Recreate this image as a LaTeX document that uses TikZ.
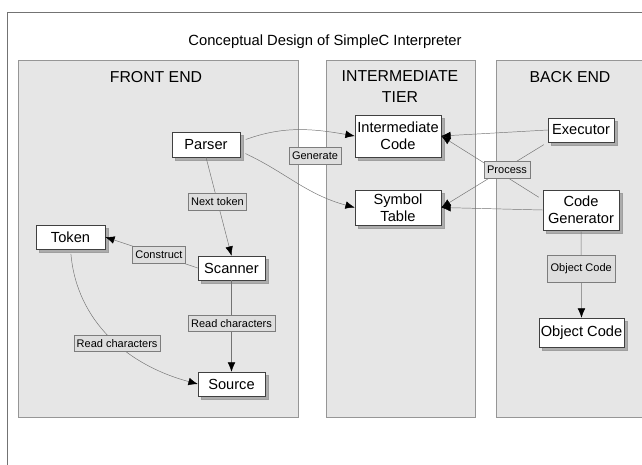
\documentclass[tikz,border=0pt]{standalone}
\usepackage{fontspec}
\setmainfont{Liberation Sans}
\usetikzlibrary{shapes,arrows.meta,shadows}
\definecolor{panelgray}{RGB}{230,230,230}
\definecolor{panelline}{RGB}{150,150,150}
\definecolor{labelgray}{RGB}{222,222,222}
\definecolor{labelline}{RGB}{125,125,125}
\definecolor{linegray}{RGB}{115,115,115}
\begin{document}
\begin{tikzpicture}[x=0.03cm,y=0.03cm,
	panel/.style={draw=panelline,fill=panelgray},
	header/.style={align=center,font=\fontsize{13.5}{18}\selectfont},
	block/.style={rectangle,draw=black!75,fill=white,inner sep=0pt,align=center,
		font=\fontsize{12.5}{14.5}\selectfont,
		copy shadow={shadow xshift=2.5pt,shadow yshift=-2.5pt,fill=gray!65,draw=gray!75}},
	tag/.style={rectangle,draw=labelline,fill=labelgray,inner xsep=2.5pt,inner ysep=0pt,
		minimum height=0.5cm,font=\fontsize{9.4}{11}\selectfont},
	line/.style={draw=linegray,-{Latex[length=8pt,width=6.5pt,black]}}]
\clip (0,0) rectangle (642,-464);
\fill[white] (0,0) rectangle (642,-464);
% frame and tiers
\draw[draw=linegray] (7,-12) rectangle (700,-520);
\node[font=\fontsize{12.6}{15}\selectfont] (title) at (325,-42) {Conceptual Design of SimpleC Interpreter};
\draw[panel] (18,-60) rectangle (298,-417);
\draw[panel] (326,-60) rectangle (475,-417);
\draw[panel] (496,-60) rectangle (700,-417);
\node[header] (front) at (156,-77) {FRONT END};
\node[header] (middle) at (400,-87) {INTERMEDIATE\\TIER};
\node[header] (back) at (570,-77) {BACK END};
% front end
\node[block,minimum width=2.04cm,minimum height=0.75cm] (parser) at (206,-144.5) {Parser};
\node[block,minimum width=2.07cm,minimum height=0.72cm] (token) at (70.5,-237) {Token};
\node[block,minimum width=2.01cm,minimum height=0.72cm] (scanner) at (231.5,-268) {Scanner};
\node[block,minimum width=2.01cm,minimum height=0.72cm] (source) at (231.5,-384) {Source};
% intermediate tier
\node[block,minimum width=2.58cm,minimum height=1.26cm] (icode) at (398,-136) {Intermediate\\Code};
\node[block,minimum width=2.58cm,minimum height=1.05cm] (symtab) at (398,-207.5) {Symbol\\Table};
% back end
\node[block,minimum width=1.98cm,minimum height=0.72cm] (executor) at (581,-130) {Executor};
\node[block,minimum width=2.28cm,minimum height=1.2cm] (codegen) at (581,-210) {Code\\Generator};
\node[block,minimum width=2.55cm,minimum height=0.87cm] (objcode) at (581.5,-332.5) {Object Code};
% connectors
\path[line,shorten <=5pt] (parser.5) to[out=20,in=170] (icode.west);
\path[line,shorten <=5pt] (parser.-11) to[out=-25,in=165] (symtab.west);
\path[line] (parser.south) -- node[tag,pos=0.45] {Next token} (scanner.north);
\path[line] (scanner.west) -- node[tag,pos=0.42] {Construct} (token.east);
\path[line] (scanner.south) -- node[tag,pos=0.47] {Read characters} (source.north);
\path[line,shorten <=4pt] (token.south) to[out=-85,in=165] node[tag,pos=0.55] {Read characters} (source.west);
\path[line] (executor.west) -- (icode.east);
\path[line] (codegen.west) -- (symtab.east);
\path[line,shorten <=4pt] (executor.south west) -- (symtab.east);
\path[line,shorten <=4pt] (codegen.165) -- (icode.east);
\path[line] (codegen.south) -- node[tag,pos=0.44,minimum height=0.8cm] {Object Code} (objcode.north);
\node[tag] (generate) at (315,-156) {Generate};
\node[tag] (process) at (507,-170) {Process};
\end{tikzpicture}
\end{document}
